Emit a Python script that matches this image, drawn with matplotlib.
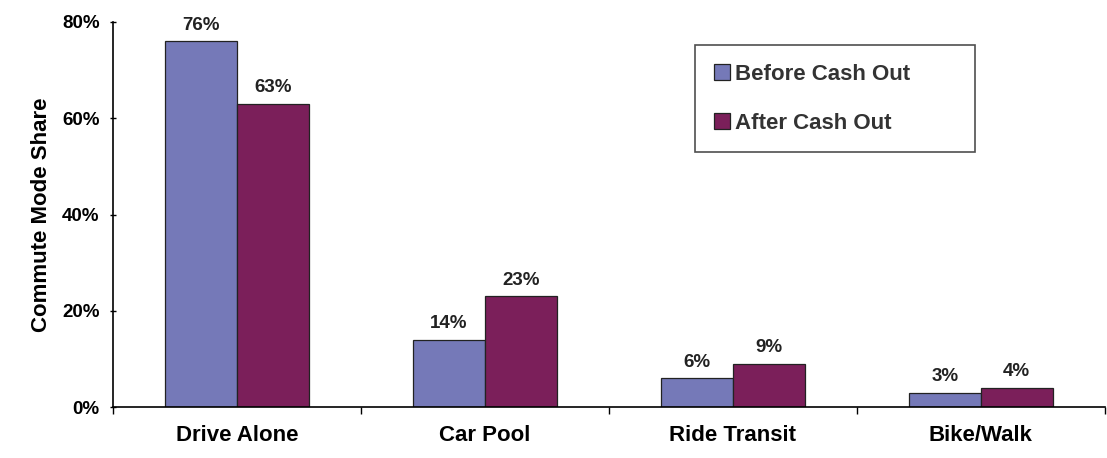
import numpy as np
import matplotlib
matplotlib.use("Agg")
import matplotlib.pyplot as plt
from matplotlib.ticker import FixedLocator

categories = ["Drive Alone", "Car Pool", "Ride Transit", "Bike/Walk"]
before = [76, 14, 6, 3]
after = [63, 23, 9, 4]
series_names = ["Before Cash Out", "After Cash Out"]
yticks = [0, 20, 40, 60, 80]

plt.rcParams['font.family'] = ['Liberation Sans', 'DejaVu Sans']

fig = plt.figure(figsize=(11.07, 4.58), dpi=100)
ax = fig.add_axes([0.102, 0.111, 0.896, 0.841])

x = np.arange(len(categories))
w = 0.29
c_before = '#7579b8'
c_after = '#7b1f5a'
b1 = ax.bar(x - w / 2, before, w, color=c_before, edgecolor='#222222', lw=0.9,
            label=series_names[0])
b2 = ax.bar(x + w / 2, after, w, color=c_after, edgecolor='#222222', lw=0.9,
            label=series_names[1])

for bars, vals in ((b1, before), (b2, after)):
    for r, v in zip(bars, vals):
        ax.text(r.get_x() + r.get_width() / 2, v + 1.6, f"{v}%", ha='center',
                va='bottom', fontsize=13.5, fontweight='bold', color='#222222')

ax.set_xlim(-0.5, len(categories) - 0.5)
ax.set_ylim(0, 80)
ax.set_yticks(yticks)
ax.set_yticklabels([f"{t}%" for t in yticks], fontsize=13.5, fontweight='bold')
ax.set_xticks(x)
ax.set_xticklabels(categories, fontsize=16, fontweight='bold')
ax.tick_params(axis='x', length=0, pad=13)
ax.xaxis.set_minor_locator(FixedLocator(np.arange(-0.5, len(categories), 1.0)))
ax.tick_params(axis='x', which='minor', length=5, direction='out', width=1)
ax.tick_params(axis='y', length=5, direction='inout', width=1, pad=7)

for s in ('top', 'right'):
    ax.spines[s].set_visible(False)
ax.spines['left'].set_linewidth(1.2)
ax.spines['bottom'].set_linewidth(1.2)

ax.set_ylabel("Commute Mode Share", fontsize=16, fontweight='bold', labelpad=7)

leg = ax.legend(loc='upper left', bbox_to_anchor=(0.628, 0.902, 0.253, 0.0),
                bbox_transform=fig.transFigure, mode='expand', fontsize=16,
                frameon=True, fancybox=False, edgecolor='#222222',
                handlelength=0.7, handleheight=0.7, handletextpad=0.25,
                borderpad=0.85, labelspacing=1.25, borderaxespad=0)
leg.get_frame().set_linewidth(1.2)
for t in leg.get_texts():
    t.set_fontweight('bold')
    t.set_color('#333333')

fig.savefig("out.png", dpi=100)
